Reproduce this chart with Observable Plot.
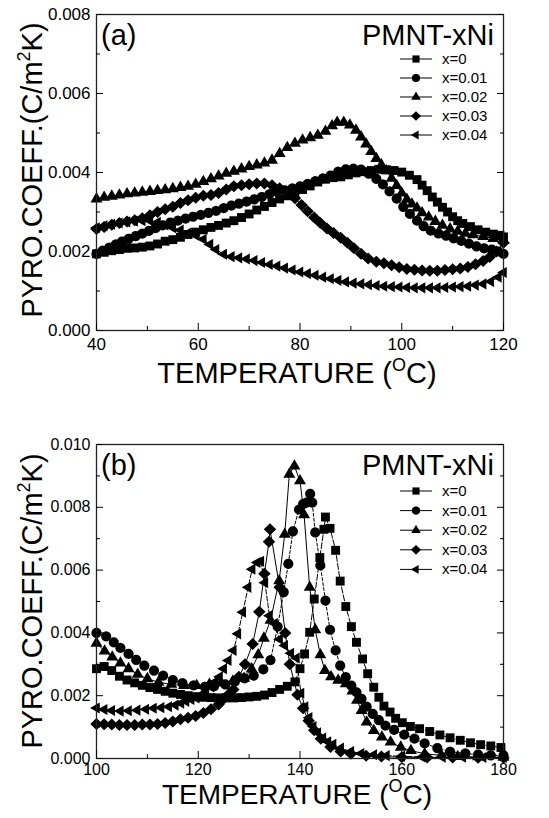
<!DOCTYPE html>
<html><head><meta charset="utf-8">
<script src="https://cdn.jsdelivr.net/npm/d3@7"></script>
<script src="https://cdn.jsdelivr.net/npm/@observablehq/plot@0.6"></script>
<style>
body{margin:0;background:#fff;}
#wrap{width:549px;}
#wrap svg{display:block;}
</style></head><body><div id="wrap"></div>
<script>
// ---------- DATA (temperature °C, pyroelectric coefficient in 1e-3 C/m²K) ----------
const seriesNames = ["x=0", "x=0.01", "x=0.02", "x=0.03", "x=0.04"];

// Panel (a)
const a_x0 = [[40,1.94],[41.5,1.98],[43,2.02],[44.5,2.05],[46,2.08],[47.5,2.09],[49,2.11],[50.5,2.14],[52,2.19],[53.5,2.26],[55,2.3],[56.5,2.36],[58,2.43],[59.5,2.49],[61,2.55],[62.5,2.61],[64,2.66],[65.5,2.72],[67,2.78],[68.5,2.86],[70,2.95],[71.5,3.05],[73,3.14],[74.5,3.24],[76,3.33],[77.5,3.41],[79,3.48],[80.5,3.57],[82,3.66],[83.5,3.76],[85,3.83],[86.5,3.87],[88,3.89],[89.5,3.94],[91,3.99],[92.5,4.02],[94,4.05],[95.5,4.08],[97,4.07],[98.5,4.05],[100,4.01],[101.5,3.93],[103,3.82],[104,3.68],[105,3.54],[106,3.38],[107,3.25],[108,3.12],[109,3.0],[110,2.88],[111,2.78],[112,2.71],[113.5,2.63],[115,2.55],[116.5,2.49],[118,2.44],[119.3,2.41],[120,2.37]];
const a_x01 = [[40,1.94],[41.2,2.02],[42.5,2.1],[43.8,2.18],[45,2.25],[46.3,2.32],[47.7,2.39],[49,2.45],[50.3,2.52],[51.6,2.59],[53,2.66],[54.5,2.73],[56,2.78],[57.5,2.83],[59,2.88],[60.5,2.93],[62,2.98],[63.5,3.03],[65,3.1],[66.5,3.16],[68,3.21],[69.5,3.26],[71,3.32],[72.5,3.38],[74,3.45],[75.5,3.51],[77,3.55],[78.5,3.6],[80,3.65],[81.5,3.71],[83,3.78],[84.5,3.85],[86,3.92],[87.5,4.02],[89,4.08],[90.5,4.1],[92,4.07],[93.5,3.97],[95,3.84],[96.3,3.7],[97.6,3.52],[99,3.34],[100.3,3.13],[101.6,2.95],[103,2.78],[104.3,2.64],[105.7,2.53],[107.2,2.46],[108.7,2.4],[110.2,2.33],[111.7,2.27],[113.2,2.2],[114.7,2.13],[116.2,2.08],[117.7,2.05],[119,2.0],[120,1.94]];
const a_x02 = [[40,3.33],[41.5,3.37],[43,3.4],[44.5,3.43],[46,3.46],[47.5,3.48],[49,3.5],[50.5,3.52],[52,3.54],[53.5,3.56],[55,3.59],[56.5,3.62],[58,3.65],[59.5,3.7],[61,3.77],[62.5,3.84],[64,3.91],[65.5,3.98],[67,4.03],[68.5,4.09],[70,4.15],[71.5,4.19],[73,4.24],[74.5,4.31],[76,4.48],[77.5,4.63],[79,4.74],[80.5,4.82],[82,4.88],[83.5,4.94],[85,5.04],[86.3,5.18],[87.3,5.27],[88.6,5.27],[89.8,5.2],[91,5.07],[92,4.9],[93,4.72],[94,4.53],[95,4.35],[96,4.19],[97,4.04],[98,3.85],[99,3.67],[100,3.48],[101,3.32],[102,3.2],[103,3.1],[104,2.98],[105.3,2.87],[106.6,2.76],[108,2.66],[109.5,2.57],[111,2.51],[112.5,2.46],[114,2.42],[116,2.38],[118,2.33],[120,2.28]];
const a_x03 = [[40,2.57],[41.5,2.62],[43,2.68],[44.5,2.72],[46,2.76],[47.5,2.79],[49,2.84],[50.5,2.92],[52,3.0],[53.5,3.07],[55,3.13],[56.5,3.23],[58,3.3],[59.5,3.36],[61,3.41],[62.5,3.43],[64,3.48],[65.5,3.57],[67,3.65],[68.5,3.68],[70,3.7],[71.5,3.72],[73,3.72],[74.5,3.68],[76,3.6],[77.5,3.48],[79,3.35],[80.3,3.18],[81.5,3.02],[82.8,2.86],[84,2.72],[85.3,2.58],[86.6,2.47],[88,2.35],[89.3,2.22],[90.6,2.08],[92,1.94],[93.4,1.82],[95,1.74],[96.5,1.7],[98,1.65],[99.5,1.6],[101,1.56],[102.5,1.54],[104,1.52],[105.5,1.51],[107,1.51],[108.5,1.53],[110,1.55],[111.5,1.57],[113,1.61],[114.5,1.68],[116,1.76],[117.3,1.86],[118.6,2.0],[120,2.22]];
const a_x04 = [[40,2.6],[41.5,2.65],[43,2.69],[44.5,2.72],[46,2.75],[47.5,2.77],[49,2.78],[50.5,2.78],[52,2.74],[53.5,2.67],[55,2.6],[56.5,2.54],[58,2.47],[59.5,2.41],[61,2.31],[62.3,2.18],[63.5,2.05],[65,1.93],[66.5,1.87],[68,1.84],[69.5,1.81],[71,1.77],[72.5,1.72],[74,1.67],[75.5,1.63],[77,1.58],[78.5,1.53],[80,1.48],[81.5,1.44],[83,1.4],[84.5,1.35],[86,1.31],[87.5,1.27],[89,1.23],[90.5,1.2],[92,1.18],[93.5,1.16],[95,1.14],[96.5,1.12],[98,1.11],[99.5,1.1],[101,1.09],[102.5,1.08],[104,1.08],[105.5,1.08],[107,1.08],[108.5,1.09],[110,1.1],[111.5,1.11],[113,1.12],[114.5,1.15],[116,1.18],[117.5,1.24],[119,1.35],[120,1.47]];

// Panel (b)
const b_x0 = [[100,2.86],[101.5,2.93],[103,2.8],[104.5,2.62],[106,2.5],[107.5,2.41],[109,2.33],[110.5,2.26],[112,2.2],[113.5,2.14],[115,2.08],[116.5,2.04],[118,2.0],[119.5,1.97],[121,1.95],[122.5,1.94],[124,1.93],[125.5,1.93],[127,1.93],[128.5,1.94],[130,1.96],[131.5,1.98],[133,2.02],[134.5,2.1],[136,2.2],[137.5,2.3],[139,2.44],[140,2.86],[140.9,3.33],[141.9,4.02],[142.8,5.08],[143.9,6.4],[144.7,7.3],[145,7.69],[145.9,7.33],[147,6.63],[147.9,5.65],[149,4.84],[150.1,4.2],[151.1,3.7],[152.3,3.17],[153.3,2.7],[154.5,2.27],[155.5,1.95],[156.5,1.67],[157.7,1.48],[158.8,1.28],[160.1,1.14],[161.7,1.02],[163.5,0.95],[165.5,0.86],[167.5,0.75],[169.5,0.66],[171.5,0.58],[173.5,0.5],[175.5,0.44],[177.5,0.4],[179.5,0.35]];
const b_x01 = [[100,4.0],[101.9,3.89],[103.4,3.7],[104.7,3.52],[106.3,3.33],[107.8,3.14],[109.4,2.96],[111.3,2.8],[113.1,2.64],[115,2.5],[116.9,2.4],[119.1,2.33],[121.3,2.28],[123.1,2.3],[125.3,2.36],[127.2,2.45],[129.1,2.55],[130.9,2.64],[132.8,2.84],[134.2,3.13],[135.6,4.2],[136.8,5.3],[137.7,6.2],[138.6,7.23],[139.8,7.93],[140.6,8.1],[141.3,8.15],[142,8.43],[142.4,8.15],[143,7.2],[144,6.15],[145,5.03],[145.9,4.1],[147,3.44],[147.9,2.96],[149,2.59],[150.1,2.32],[151.1,2.11],[152.1,1.9],[153.1,1.65],[154.3,1.42],[155.5,1.22],[156.8,1.05],[158.5,0.91],[160.5,0.76],[162.5,0.63],[164.5,0.48],[167,0.33],[169.5,0.22],[172.5,0.16],[175,0.12],[177.5,0.1],[180,0.1]];
const b_x02 = [[100,3.67],[101.6,3.42],[103.1,3.23],[104.7,3.04],[106.3,2.86],[108.1,2.68],[110,2.54],[112.2,2.43],[114.7,2.36],[117.2,2.32],[119.7,2.32],[122.2,2.36],[124.5,2.4],[126.8,2.46],[129,2.55],[130.5,2.85],[131.8,3.3],[132.9,3.83],[134.2,4.4],[135.9,5.66],[137,7.14],[137.9,9.05],[138.9,9.31],[140,8.84],[140.8,7.76],[141.9,5.45],[143,4.1],[144,3.3],[144.9,2.8],[146.1,2.6],[147.5,2.49],[149,2.38],[150.3,2.15],[151.2,1.85],[152.1,1.53],[153.1,1.16],[154.5,0.89],[156.1,0.68],[157.8,0.52],[159.8,0.36],[161.8,0.25],[164.5,0.15],[167.8,0.1],[171,0.06],[175,0.05],[180,0.04]];
const b_x03 = [[100,1.1],[101.5,1.09],[103,1.08],[104.5,1.07],[106,1.07],[107.5,1.07],[109,1.08],[110.5,1.08],[112,1.1],[113.5,1.13],[115,1.18],[116.5,1.25],[118,1.3],[119.5,1.35],[121,1.45],[122.5,1.57],[124,1.72],[125,1.9],[126,2.05],[126.9,2.2],[128,2.6],[129.2,3.0],[130.7,3.65],[132,4.67],[133,5.88],[133.9,6.9],[134.1,7.3],[136,5.45],[137.1,4.0],[138,3.0],[139.5,2.03],[140.6,1.6],[141.7,1.2],[142.8,0.9],[144.1,0.63],[146,0.37],[148,0.22],[150,0.15],[153,0.09],[156,0.06],[160,0.04],[165,0.03],[170,0.03],[175,0.02],[180,0.02]];
const b_x04 = [[100,1.61],[101.5,1.56],[103,1.53],[104.7,1.51],[106.3,1.52],[108,1.54],[109.7,1.57],[111.2,1.6],[112.7,1.62],[114.2,1.65],[115.5,1.7],[116.6,1.76],[117.6,1.82],[118.6,1.88],[119.6,1.93],[120.5,2.0],[121.5,2.12],[122.5,2.28],[123.4,2.45],[124.2,2.6],[125,2.86],[125.9,3.12],[126.9,3.44],[127.8,3.97],[128.75,4.66],[129.8,5.45],[130.6,6.03],[131.6,6.24],[132.3,6.28],[133.1,5.6],[134,4.55],[135,4.3],[136,3.8],[137,3.6],[138.2,3.35],[139.3,3.2],[140.2,2.08],[141,1.65],[141.8,1.3],[142.6,1.02],[143.5,0.82],[144.5,0.65],[145.5,0.53],[146.5,0.45],[148,0.33],[150,0.22],[152,0.16],[154.5,0.12],[157,0.09],[160,0.07],[164,0.05],[168,0.04],[172,0.04],[176,0.03],[180,0.03]];

// Ticks
const aXMajor = [40, 60, 80, 100, 120];
const aXMinor = [50, 70, 90, 110];
const aYMajor = [0, 0.002, 0.004, 0.006, 0.008];
const aYMinor = [0.001, 0.003, 0.005, 0.007];
const bXMajor = [100, 120, 140, 160, 180];
const bXMinor = [110, 130, 150, 170];
const bYMajor = [0, 0.002, 0.004, 0.006, 0.008, 0.010];
const bYMinor = [0.001, 0.003, 0.005, 0.007, 0.009];

// ---------- SYMBOLS ----------
function sym(drawFn){ return {draw(ctx, size){ const k = Math.sqrt(size/Math.PI)/4.5; drawFn(ctx, k); }}; }
const symSquare = sym((c,k)=>{ c.moveTo(-4*k,-4*k); c.lineTo(4*k,-4*k); c.lineTo(4*k,4*k); c.lineTo(-4*k,4*k); c.closePath(); });
const symCircle = sym((c,k)=>{ const r=4.6*k; c.moveTo(r,0); c.arc(0,0,r,0,2*Math.PI); c.closePath(); });
const symTriUp = sym((c,k)=>{ c.moveTo(0,-6.2*k); c.lineTo(5.4*k,3.1*k); c.lineTo(-5.4*k,3.1*k); c.closePath(); });
const symDiamond = sym((c,k)=>{ c.moveTo(0,-5.4*k); c.lineTo(5.6*k,0); c.lineTo(0,5.4*k); c.lineTo(-5.6*k,0); c.closePath(); });
const symTriLeft = sym((c,k)=>{ c.moveTo(-5.8*k,0); c.lineTo(2.9*k,-5*k); c.lineTo(2.9*k,5*k); c.closePath(); });
const symbols = [symSquare, symCircle, symTriUp, symDiamond, symTriLeft];
const dashesA = [null, null, null, null, null];
const dashesB = ["6,2", "3,2", null, null, "5,2"];

const FONT = "'Liberation Sans', Arial, sans-serif";
const fmt = d3.format(".3f");

function axes(xMaj, xMin, yMaj, yMin, tickFont, xPad){
  const blank = () => "";
  return [
    Plot.axisX(xMaj, {anchor:"bottom", tickSize:-7, tickFormat:blank, label:null}),
    Plot.axisX(xMin, {anchor:"bottom", tickSize:-4, tickFormat:blank, label:null}),
    Plot.axisX(xMaj, {anchor:"bottom", tickSize:0, tickPadding:xPad, fontSize:tickFont, label:null, fill:"black"}),
    Plot.axisY(yMaj, {anchor:"left", tickSize:-7, tickFormat:blank, label:null}),
    Plot.axisY(yMin, {anchor:"left", tickSize:-4, tickFormat:blank, label:null}),
    Plot.axisY(yMaj, {anchor:"left", tickSize:0, tickPadding:6, tickFormat:fmt, fontSize:tickFont, label:null, fill:"black"}),
    Plot.axisY(yMaj, {anchor:"right", tickSize:-7, tickFormat:blank, label:null}),
    Plot.axisY(yMin, {anchor:"right", tickSize:-4, tickFormat:blank, label:null})
  ];
}

function panel(opts){
  const {series, dashes, xDomain, yDomain, height, marginTop, marginBottom, ticks, tickFont, xPad} = opts;
  const marks = [];
  series.forEach((s, i) => {
    marks.push(Plot.line(s, {x: d=>d[0], y: d=>d[1]/1000, stroke:"black", strokeWidth:1, strokeDasharray: dashes[i] || undefined}));
  });
  series.forEach((s, i) => {
    marks.push(Plot.dot(s, {x: d=>d[0], y: d=>d[1]/1000, symbol: symbols[i], r:5, fill:"black", stroke:"none"}));
  });
  marks.push(Plot.frame({stroke:"#222", strokeWidth:1.3}));
  marks.push(...axes(...ticks, tickFont, xPad));
  return Plot.plot({
    width:549, height, marginTop, marginBottom, marginLeft:96, marginRight:46,
    x:{domain:xDomain}, y:{domain:yDomain},
    style:{fontFamily:FONT, background:"white", color:"black", overflow:"visible"},
    marks
  });
}

function decorate(svgNode, o){
  const svg = d3.select(svgNode);
  const g = svg.append("g").attr("font-family", FONT).attr("fill", "black").attr("text-anchor", "start");
  // x label
  const xl = g.append("text").attr("x", o.xLabelX).attr("y", o.xLabelY).attr("text-anchor","middle").attr("font-size", o.labelFont);
  xl.append("tspan").text("TEMPERATURE (");
  xl.append("tspan").text("O").attr("font-size", 18).attr("dy", -12);
  xl.append("tspan").text("C)").attr("dy", 12);
  // y label
  const yl = g.append("text").attr("transform", `translate(42,${o.yLabelY}) rotate(-90)`).attr("text-anchor","middle").attr("font-size", 29);
  yl.append("tspan").text("PYRO.COEFF.(C/m");
  yl.append("tspan").text("2").attr("font-size", 18).attr("dy", -12);
  yl.append("tspan").text("K)").attr("dy", 12);
  // panel letter and title
  g.append("text").attr("x", 101).attr("y", o.titleY).attr("font-size", 29).attr("text-anchor","start").text(o.letter);
  g.append("text").attr("x", 494).attr("y", o.titleY).attr("font-size", 29).attr("text-anchor","end").text("PMNT-xNi");
  // legend
  seriesNames.forEach((name, i) => {
    const y = o.legY + i * o.legStep;
    g.append("line").attr("x1", 400).attr("x2", 432).attr("y1", y).attr("y2", y).attr("stroke", "black").attr("stroke-width", 1);
    g.append("path").attr("transform", `translate(416,${y})`).attr("d", d3.symbol().type(symbols[i]).size(Math.PI*4.5*4.5*0.8)());
    g.append("text").attr("x", 442).attr("y", y + 5).attr("font-size", 15).attr("text-anchor","start").text(name);
  });
}

const wrap = document.getElementById("wrap");

const pa = panel({series:[a_x0,a_x01,a_x02,a_x03,a_x04], dashes:dashesA, xDomain:[40,120], yDomain:[0,0.008], height:400, marginTop:14, marginBottom:70, ticks:[aXMajor,aXMinor,aYMajor,aYMinor], tickFont:17, xPad:7});
wrap.appendChild(pa);
decorate(pa, {xLabelX:297, xLabelY:383, yLabelY:170, titleY:45, letter:"(a)", legY:59, legStep:19, labelFont:29});

const pb = panel({series:[b_x0,b_x01,b_x02,b_x03,b_x04], dashes:dashesB, xDomain:[100,180], yDomain:[0,0.010], height:418, marginTop:44, marginBottom:60, ticks:[bXMajor,bXMinor,bYMajor,bYMinor], tickFont:16, xPad:5});
wrap.appendChild(pb);
decorate(pb, {xLabelX:297, xLabelY:404, yLabelY:201, titleY:75, letter:"(b)", legY:91, legStep:19.6, labelFont:28});
</script>
</body></html>
